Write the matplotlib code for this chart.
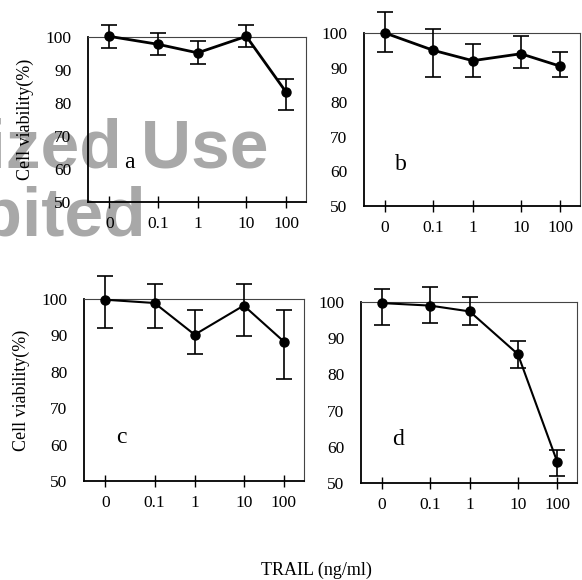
import numpy as np
import matplotlib
matplotlib.use("Agg")
import matplotlib.pyplot as plt

plt.rcParams['font.family'] = ['Liberation Serif', 'DejaVu Serif']

# TRAIL doses (category labels)
doses = ["0", "0.1", "1", "10", "100"]

# cell viability (%) and error bars (low / high) for each panel
mean_a = [100.2, 97.8, 95.2, 100.2, 83.3]
lo_a = [3.6, 3.4, 3.3, 3.2, 5.4]
hi_a = [3.5, 3.5, 3.7, 3.5, 4.0]

mean_b = [100.0, 95.0, 92.0, 94.0, 90.4]
lo_b = [5.6, 7.7, 4.7, 4.0, 3.0]
hi_b = [6.0, 6.1, 4.7, 5.0, 4.0]

mean_c = [99.8, 98.9, 90.2, 98.2, 88.3]
lo_c = [7.8, 6.9, 5.3, 8.5, 10.3]
hi_c = [6.4, 5.1, 6.7, 5.8, 8.8]

mean_d = [99.7, 99.0, 97.4, 85.6, 55.8]
lo_d = [6.0, 4.8, 3.7, 3.8, 3.8]
hi_d = [4.0, 5.1, 4.0, 3.5, 3.4]

yticks = [50, 60, 70, 80, 90, 100]

# hand drawn tick spacing of the original figure
xpos = np.array([0, 1.1, 2.0, 3.1, 4.0])

fig = plt.figure(figsize=(5.82, 5.80), dpi=100)

# grey watermark behind the plots
fig.text(268/582, 1-168/580, "Unauthorized Use", ha="right", va="baseline",
         fontsize=50, fontweight="bold", color="#a8a8a8",
         family="Liberation Sans", zorder=-5)
fig.text(146/582, 1-235/580, "Prohibited", ha="right", va="baseline",
         fontsize=50, fontweight="bold", color="#a8a8a8",
         family="Liberation Sans", zorder=-5)

panels = [
    ("a", mean_a, lo_a, hi_a, [88/582, 1-202/580, 218/582, 165/580], 2.0, 0.19),
    ("b", mean_b, lo_b, hi_b, [364/582, 1-206/580, 216/582, 173/580], 2.0, 0.17),
    ("c", mean_c, lo_c, hi_c, [84/582, 1-481/580, 220/582, 182/580], 1.5, 0.17),
    ("d", mean_d, lo_d, hi_d, [361/582, 1-483/580, 216/582, 181/580], 1.5, 0.17),
]

for name, m, lo, hi, rect, lw, lx in panels:
    ax = fig.add_axes(rect)
    ax.set_facecolor("none")
    ax.errorbar(xpos, m, yerr=[lo, hi], color="black", lw=lw,
                marker="o", markersize=6.5, ecolor="black", elinewidth=1.2,
                capsize=6, capthick=1.2, clip_on=False, zorder=3)
    ax.set_ylim(50, 100)
    ax.set_xlim(-0.48, 4.45)
    ax.set_yticks(yticks)
    ax.set_xticks(xpos)
    ax.set_xticklabels(doses)
    ax.tick_params(axis="y", length=0, labelsize=12.5, pad=12)
    ax.tick_params(axis="x", direction="inout", length=8, width=1,
                   labelsize=12.5, pad=6)
    for s in ["left", "bottom"]:
        ax.spines[s].set_linewidth(1.3)
    for s in ["top", "right"]:
        ax.spines[s].set_linewidth(0.8)
        ax.spines[s].set_color("#444444")
    ax.text(lx, 0.24, name, transform=ax.transAxes,
            fontsize=17, ha="center", va="center")
    if name in ("a", "c"):
        ax.set_ylabel("Cell viability(%)", fontsize=13, labelpad=8)

fig.text(316/582, 1-570/580, "TRAIL (ng/ml)", ha="center", va="center",
         fontsize=13)

fig.savefig("out.png", dpi=100)
